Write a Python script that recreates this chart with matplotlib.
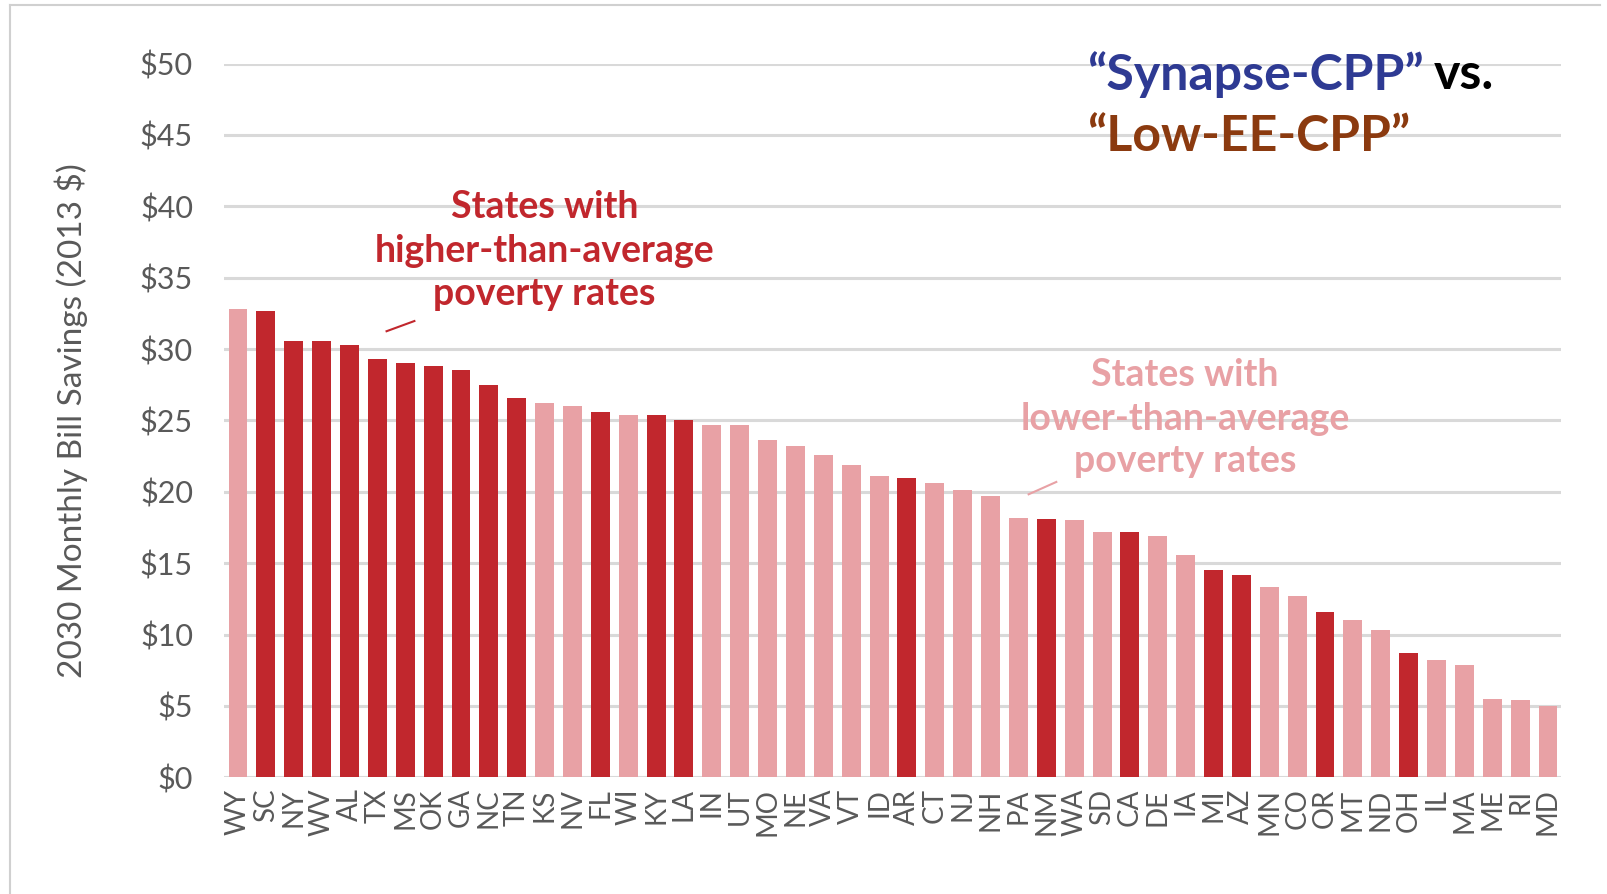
import numpy as np
import matplotlib
matplotlib.use("Agg")
import matplotlib.pyplot as plt
from matplotlib.lines import Line2D

# 2030 monthly bill savings (2013 $), "Synapse-CPP" vs "Low-EE-CPP", by state
states = ["WY", "SC", "NY", "WV", "AL", "TX", "MS", "OK", "GA", "NC", "TN", "KS",
          "NV", "FL", "WI", "KY", "LA", "IN", "UT", "MO", "NE", "VA", "VT", "ID",
          "AR", "CT", "NJ", "NH", "PA", "NM", "WA", "SD", "CA", "DE", "IA", "MI",
          "AZ", "MN", "CO", "OR", "MT", "ND", "OH", "IL", "MA", "ME", "RI", "MD"]
savings = [32.8, 32.7, 30.6, 30.6, 30.3, 29.3, 29.0, 28.8, 28.5, 27.5, 26.6, 26.2,
           26.0, 25.6, 25.4, 25.4, 25.0, 24.7, 24.7, 23.6, 23.2, 22.6, 21.9, 21.1,
           21.0, 20.6, 20.1, 19.7, 18.2, 18.1, 18.0, 17.2, 17.2, 16.9, 15.6, 14.5,
           14.2, 13.3, 12.7, 11.6, 11.0, 10.3, 8.7, 8.2, 7.9, 5.5, 5.4, 5.0]
# states with higher-than-average poverty rates
high_poverty = {"SC", "NY", "WV", "AL", "TX", "MS", "OK", "GA", "NC", "TN", "FL",
                "KY", "LA", "AR", "NM", "CA", "MI", "AZ", "OR", "OH"}
yticks = [0, 5, 10, 15, 20, 25, 30, 35, 40, 45, 50]

DARK = "#c1272d"
LIGHT = "#e8a1a5"
GRID = "#d9d9d9"
TXT = "#595959"
FONT = ["Lato", "DejaVu Sans"]
TFONT = ["Lato", "DejaVu Sans"]

fig = plt.figure(figsize=(16.08, 8.94), dpi=100)
ax = fig.add_axes([0.139, 0.1305, 0.832, 0.7984])

x = np.arange(len(states))
cols = [DARK if s in high_poverty else LIGHT for s in states]
ax.bar(x, savings, width=0.68, color=cols, zorder=3)

ax.set_xlim(-0.52, len(states) - 0.52)
ax.set_ylim(0, 50)
ax.set_yticks(yticks)
ax.set_yticklabels([f"${v}" for v in yticks], fontsize=22, color=TXT, family=FONT)
ax.set_xticks(x)
ax.set_xticklabels(states, rotation=90, fontsize=20, color=TXT, family=FONT)
ax.tick_params(length=0, axis="y", pad=22)
ax.tick_params(length=0, axis="x", pad=8)
ax.yaxis.grid(True, color=GRID, lw=2.2, zorder=0)
for sp in ax.spines.values():
    sp.set_visible(False)
ax.set_ylabel("2030 Monthly Bill Savings (2013 $)", fontsize=24, color=TXT,
              family=FONT, labelpad=37)

# annotations
for txt, yy in [("States with", 0.768), ("higher-than-average", 0.719), ("poverty rates", 0.671)]:
    fig.text(0.3387, yy, txt, ha="center", va="center", fontsize=27, fontweight="bold",
             color=DARK, family=FONT)
fig.add_artist(Line2D([0.2404, 0.2577], [0.6295, 0.6409], color=DARK, lw=1.5))
for txt, yy in [("States with", 0.580), ("lower-than-average", 0.531), ("poverty rates", 0.484)]:
    fig.text(0.737, yy, txt, ha="center", va="center", fontsize=27, fontweight="bold",
             color=LIGHT, family=FONT)
fig.add_artist(Line2D([0.6397, 0.6569], [0.4471, 0.4609], color=LIGHT, lw=1.5))

# title
t1 = fig.text(0.676, 0.917, "\u201cSynapse-CPP\u201d", ha="left", va="center", fontsize=36,
              fontweight="bold", color="#2e3a93", family=TFONT)
fig.canvas.draw()
bb = t1.get_window_extent(fig.canvas.get_renderer()).transformed(fig.transFigure.inverted())
fig.text(bb.x1 + 0.006, 0.917, "vs.", ha="left", va="center", fontsize=36,
         fontweight="bold", color="black", family=TFONT)
fig.text(0.676, 0.847, "\u201cLow-EE-CPP\u201d", ha="left", va="center", fontsize=36,
         fontweight="bold", color="#8b3a0f", family=TFONT)

# thin frame at left/top
fig.add_artist(Line2D([0.0065, 0.0065], [0.0, 0.994], color="#d0d0d0", lw=1.5))
fig.add_artist(Line2D([0.0065, 0.995], [0.994, 0.994], color="#d0d0d0", lw=1.5))

fig.savefig("out.png", dpi=100)
